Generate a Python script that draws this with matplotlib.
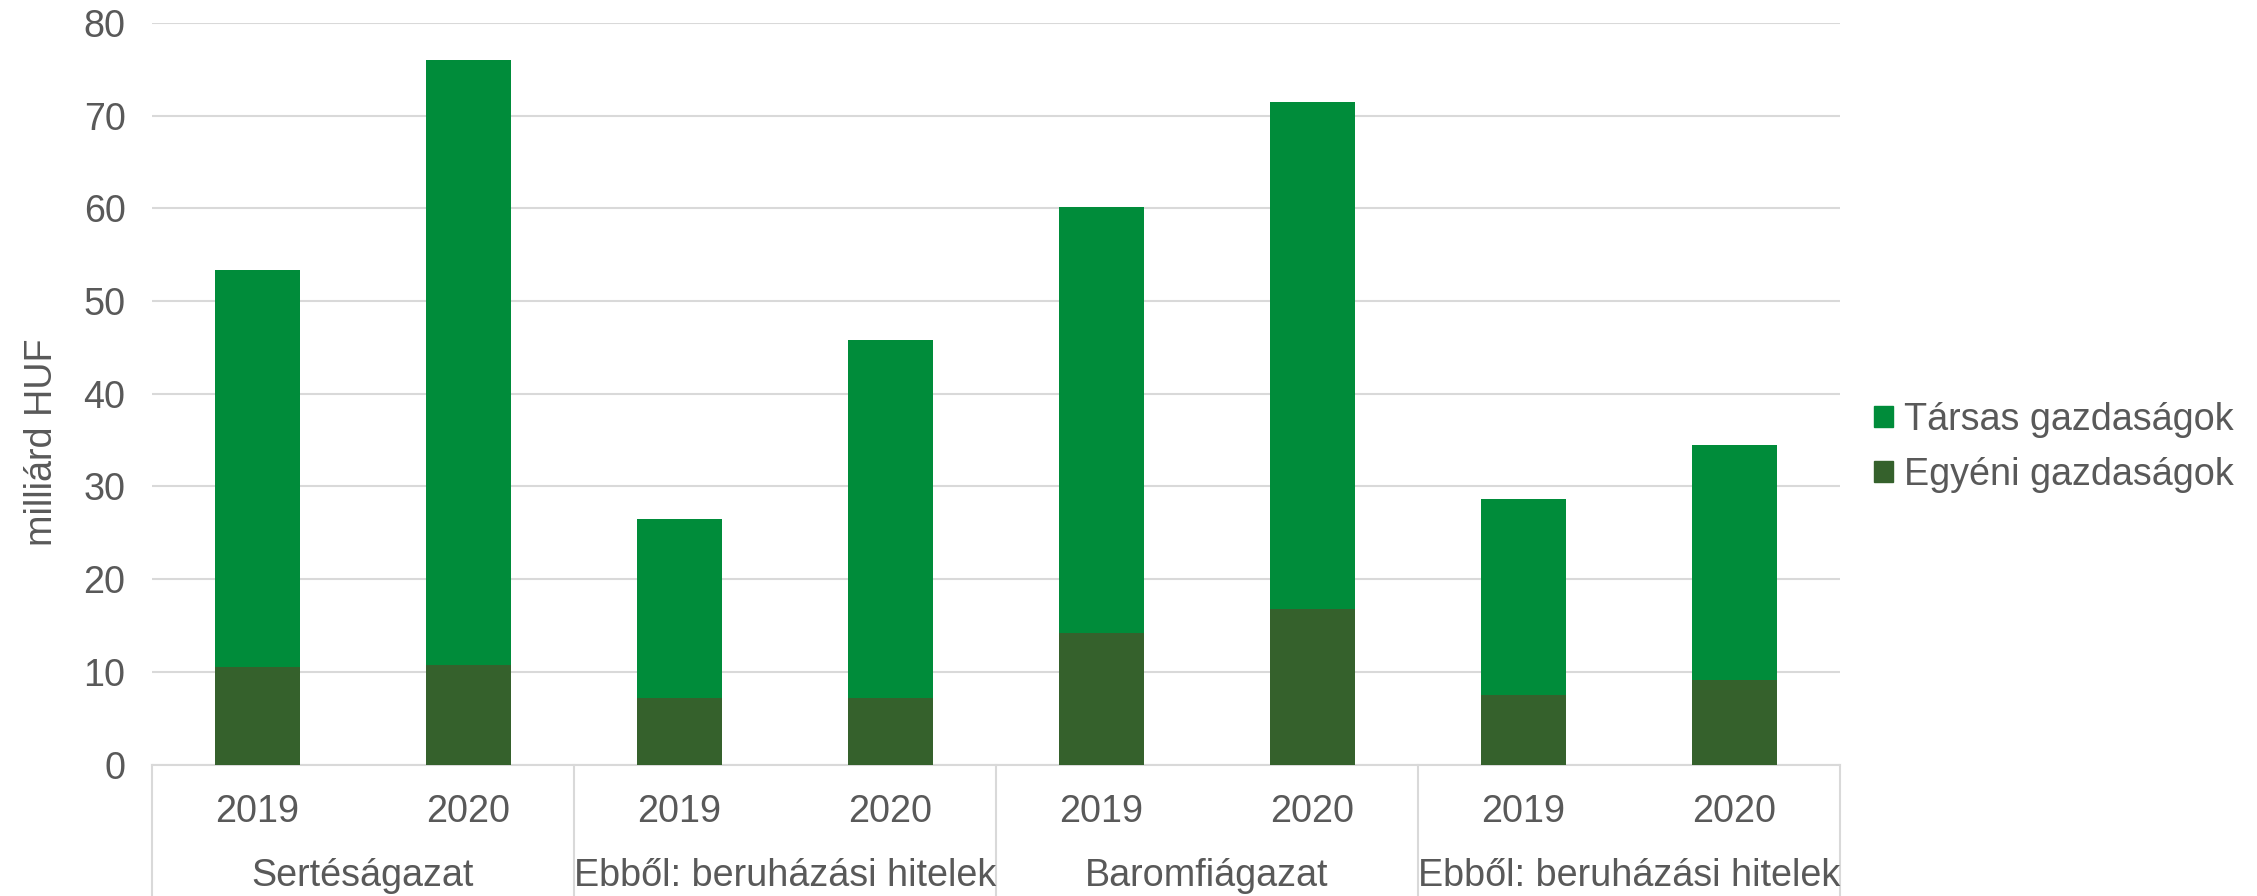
import numpy as np
import matplotlib.pyplot as plt
from matplotlib.patches import Patch

plt.rcParams["font.family"] = ["Liberation Sans", "DejaVu Sans"]
plt.rcParams["text.parse_math"] = False

years = ["2019", "2020", "2019", "2020", "2019", "2020", "2019", "2020"]
groups = ["Sertéságazat", "Ebből: beruházási hitelek",
          "Baromfiágazat", "Ebből: beruházási hitelek"]
egyeni = [10.5, 10.7, 7.2, 7.2, 14.2, 16.8, 7.5, 9.1]
total = [53.4, 76.0, 26.5, 45.8, 60.1, 71.5, 28.7, 34.5]
tarsas = [t - e for t, e in zip(total, egyeni)]

C_TARSAS = "#008c3a"
C_EGYENI = "#35612c"
TXT = "#595959"
GRID = "#d9d9d9"
FS = 27.2

fig = plt.figure(figsize=(22.57, 8.96), dpi=100)
ax = fig.add_axes([152 / 2257, 1 - 764.6 / 896, (1840 - 152) / 2257, (764.6 - 22.9) / 896])

x = np.arange(len(years))
ax.bar(x, egyeni, width=0.4, color=C_EGYENI, zorder=3)
ax.bar(x, tarsas, bottom=egyeni, width=0.4, color=C_TARSAS, zorder=3)

ax.set_xlim(-0.5, len(years) - 0.5)
ax.set_ylim(0, 80)
ax.set_yticks(range(0, 81, 10))
ax.yaxis.grid(True, color=GRID, linewidth=1.5, zorder=0)
ax.set_axisbelow(True)
for s in ["top", "right", "left"]:
    ax.spines[s].set_visible(False)
ax.spines["bottom"].set_color(GRID)
ax.spines["bottom"].set_linewidth(1.5)
ax.tick_params(axis="y", length=0, pad=19, labelsize=FS, labelcolor=TXT)
ax.set_xticks([])

# two-level category axis
h = 764.6 - 22.9
trans = ax.get_xaxis_transform()
for i, yr in enumerate(years):
    ax.text(i, -(812 - 764.6) / h, yr, transform=trans, ha="center", va="center",
            fontsize=FS, color=TXT)
n_per = len(years) // len(groups)
for g, name in enumerate(groups):
    ax.text(g * n_per + (n_per - 1) / 2, -(876 - 764.6) / h, name, transform=trans,
            ha="center", va="center", fontsize=FS, color=TXT)
for g in range(len(groups) + 1):
    ax.plot([g * n_per - 0.5] * 2, [0, -(900 - 764.6) / h], transform=trans,
            color=GRID, linewidth=1.5, clip_on=False)

fig.text(42 / 2257, 1 - 442 / 896, "milliárd HUF", rotation=90, ha="center",
         va="center", fontsize=FS, color=TXT)

handles = [Patch(color=C_TARSAS), Patch(color=C_EGYENI)]
fig.legend(handles, ["Társas gazdaságok", "Egyéni gazdaságok"],
           loc="center left", bbox_to_anchor=(1874 / 2257, 1 - 447.5 / 896),
           frameon=False, fontsize=FS, labelcolor=TXT, handlelength=0.5,
           handleheight=0.5, handletextpad=0.3, labelspacing=0.5,
           borderpad=0, borderaxespad=0)

fig.savefig("out.png", dpi=100)
